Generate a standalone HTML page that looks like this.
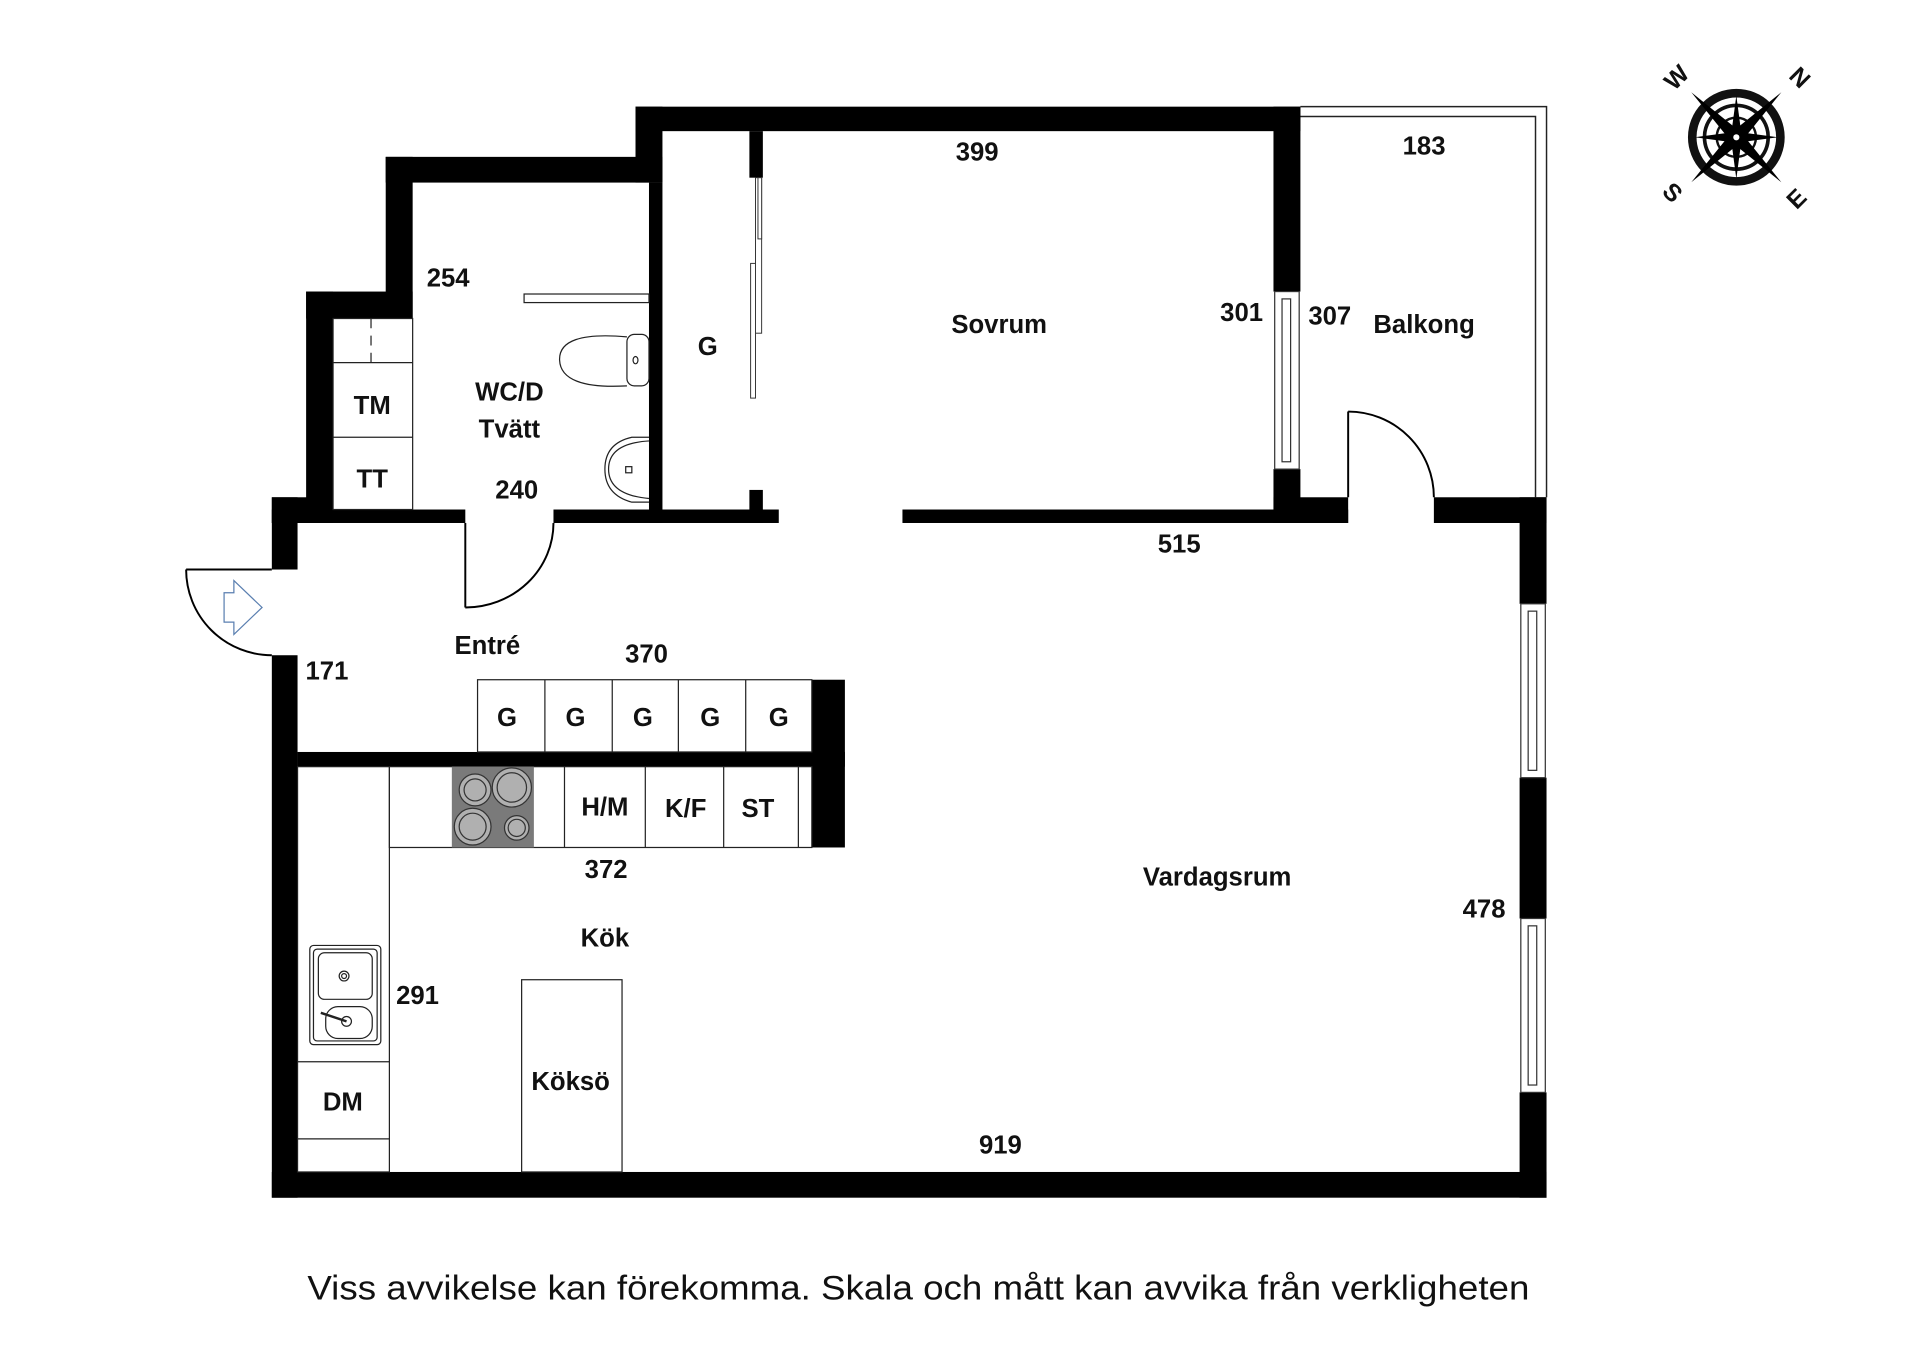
<!DOCTYPE html>
<html><head><meta charset="utf-8"><style>
html,body{margin:0;padding:0;background:#fff;}
svg{display:block;}
text{font-family:"Liberation Sans",sans-serif;font-weight:bold;fill:#111;text-anchor:middle;}
</style></head><body>
<svg width="1920" height="1357" viewBox="0 0 1568 1108" xmlns="http://www.w3.org/2000/svg">
<rect x="0" y="0" width="1568" height="1108" fill="#fff"/>
<path d="M1062 87 H1263 V406" fill="none" stroke="#222" stroke-width="1.2"/>
<path d="M1062 95 H1254 V406" fill="none" stroke="#222" stroke-width="1.2"/>
<g fill="#000">
<rect x="519" y="87" width="543" height="20"/>
<rect x="519" y="87" width="22" height="62"/>
<rect x="530" y="149" width="11" height="278"/>
<rect x="315" y="128" width="226" height="21"/>
<rect x="315" y="128" width="22" height="132"/>
<rect x="250" y="238" width="87" height="22"/>
<rect x="250" y="238" width="22" height="189"/>
<rect x="222" y="406" width="50" height="21"/>
<rect x="222" y="406" width="21" height="59"/>
<rect x="222" y="416" width="158" height="11"/>
<rect x="452" y="416" width="184" height="11"/>
<rect x="612" y="107" width="11" height="38"/>
<rect x="612" y="400" width="11" height="27"/>
<rect x="737" y="416" width="364" height="11"/>
<rect x="1040" y="87" width="22" height="151"/>
<rect x="1040" y="383" width="22" height="44"/>
<rect x="1040" y="406" width="61" height="21"/>
<rect x="1171" y="406" width="92" height="21"/>
<rect x="1241" y="406" width="22" height="87"/>
<rect x="1241" y="635" width="22" height="115"/>
<rect x="1241" y="892" width="22" height="86"/>
<rect x="222" y="535" width="21" height="443"/>
<rect x="222" y="957" width="1041" height="21"/>
<rect x="243" y="614" width="447" height="12"/>
<rect x="663" y="555" width="27" height="137"/>
</g>
<g fill="#fff" stroke="#333" stroke-width="1">
<rect x="1041" y="238" width="20" height="145"/>
<rect x="1047" y="244" width="7" height="133"/>
<rect x="1242" y="493" width="20" height="142"/>
<rect x="1248" y="499" width="7" height="130"/>
<rect x="1242" y="750" width="20" height="142"/>
<rect x="1248" y="756" width="7" height="130"/>
</g>
<g fill="none" stroke="#000" stroke-width="1.6">
<path d="M152 465 H222"/>
<path d="M152 465 A70 70 0 0 0 222 535"/>
<path d="M380 427 V496"/>
<path d="M380 496 A72 69 0 0 0 452 427"/>
<path d="M1101 406 V336"/>
<path d="M1101 336 A70 70 0 0 1 1171 406"/>
</g>
<path d="M183 484 H191 V474 L214 496 L191 518 V508 H183 Z" fill="none" stroke="#5a7fb0" stroke-width="1"/>
<g fill="#fff" stroke="#333" stroke-width="0.8">
<rect x="617" y="145" width="5" height="127"/>
<rect x="613" y="215" width="4" height="110"/>
<rect x="619" y="145" width="3" height="50"/>
</g>
<g fill="none" stroke="#222" stroke-width="1">
<rect x="428" y="240" width="102" height="7"/>
<path d="M512 275 Q456 270 457 294 Q458 318 512 315"/>
<rect x="512" y="273" width="18" height="42" rx="6"/>
<ellipse cx="519" cy="294" rx="2" ry="3"/>
<path d="M530 357 H516 Q494 362 494 383 Q494 404 516 410 H530"/>
<path d="M530 360 Q497 362 497 383 Q497 404 530 407"/>
<rect x="511" y="381" width="5" height="5"/>
<rect x="272" y="260" width="65" height="156"/>
<line x1="272" y1="296" x2="337" y2="296"/>
<line x1="272" y1="357" x2="337" y2="357"/>
<line x1="303" y1="260" x2="303" y2="296" stroke-dasharray="8 6"/>
<rect x="390" y="555" width="273" height="59"/>
<line x1="445" y1="555" x2="445" y2="614"/>
<line x1="500" y1="555" x2="500" y2="614"/>
<line x1="554" y1="555" x2="554" y2="614"/>
<line x1="609" y1="555" x2="609" y2="614"/>
<rect x="318" y="626" width="345" height="66"/>
<line x1="461" y1="626" x2="461" y2="692"/>
<line x1="527" y1="626" x2="527" y2="692"/>
<line x1="591" y1="626" x2="591" y2="692"/>
<line x1="652" y1="626" x2="652" y2="692"/>
<rect x="243" y="626" width="75" height="331"/>
<line x1="243" y1="867" x2="318" y2="867"/>
<line x1="243" y1="930" x2="318" y2="930"/>
<rect x="426" y="800" width="82" height="157"/>
<rect x="253" y="772" width="58" height="81" rx="3"/>
<rect x="256" y="775" width="52" height="75" rx="3"/>
<rect x="260" y="778" width="44" height="38" rx="5"/>
<rect x="266" y="822" width="38" height="26" rx="10"/>
<circle cx="281" cy="797" r="4"/><circle cx="281" cy="797" r="2"/>
<circle cx="283" cy="834" r="4"/>
<line x1="262" y1="827" x2="283" y2="834" stroke-width="2"/>
</g>
<rect x="369" y="626" width="67" height="66" fill="#7a7a7a"/>
<g fill="#b0b0b0" stroke="#333" stroke-width="1">
<circle cx="388" cy="645" r="13"/><circle cx="388" cy="645" r="9"/>
<circle cx="418" cy="643" r="16"/><circle cx="418" cy="643" r="12"/>
<circle cx="386" cy="675" r="15"/><circle cx="386" cy="675" r="11"/>
<circle cx="422" cy="676" r="10"/><circle cx="422" cy="676" r="7"/>
</g>
<g transform="translate(1418,112)">
<circle r="36" fill="none" stroke="#111" stroke-width="7"/>
<circle r="26" fill="none" stroke="#111" stroke-width="3"/>
<circle r="16" fill="none" stroke="#111" stroke-width="2"/>
<g fill="#000">
<polygon points="0,-34 4,-4 0,0 -4,-4"/><polygon points="0,34 4,4 0,0 -4,4"/>
<polygon points="-34,0 -4,-4 0,0 -4,4"/><polygon points="34,0 4,-4 0,0 4,4"/>
<g transform="rotate(45)">
<polygon points="0,-52 5,-5 0,0 -5,-5"/><polygon points="0,52 5,5 0,0 -5,5"/>
<polygon points="-52,0 -5,-5 0,0 -5,5"/><polygon points="52,0 5,-5 0,0 5,5"/>
</g></g>
<circle r="2.5" fill="#fff"/>
</g>
<g font-size="20" style="font-weight:900">
<text x="1369" y="70" transform="rotate(-45 1369 63)">W</text>
<text x="1470" y="70" transform="rotate(45 1470 63)">N</text>
<text x="1366" y="164" transform="rotate(45 1366 157)">S</text>
<text x="1467" y="169" transform="rotate(-45 1467 162)">E</text>
</g>
<g font-size="21">
<text x="798" y="131">399</text>
<text x="1163" y="126">183</text>
<text x="366" y="234">254</text>
<text x="816" y="272">Sovrum</text>
<text x="1014" y="262">301</text>
<text x="1086" y="265">307</text>
<text x="1163" y="272">Balkong</text>
<text x="578" y="290">G</text>
<text x="304" y="338">TM</text>
<text x="304" y="398">TT</text>
<text x="416" y="327">WC/D</text>
<text x="416" y="357">Tvätt</text>
<text x="422" y="407">240</text>
<text x="963" y="451">515</text>
<text x="398" y="534">Entré</text>
<text x="528" y="541">370</text>
<text x="267" y="555">171</text>
<text x="414" y="593">G</text>
<text x="470" y="593">G</text>
<text x="525" y="593">G</text>
<text x="580" y="593">G</text>
<text x="636" y="593">G</text>
<text x="494" y="666">H/M</text>
<text x="560" y="667">K/F</text>
<text x="619" y="667">ST</text>
<text x="495" y="717">372</text>
<text x="994" y="723">Vardagsrum</text>
<text x="1212" y="749">478</text>
<text x="494" y="773">Kök</text>
<text x="341" y="820">291</text>
<text x="466" y="890">Köksö</text>
<text x="280" y="907">DM</text>
<text x="817" y="942">919</text>
</g>
<text x="750" y="1061" font-size="28" style="font-weight:normal" textLength="998" lengthAdjust="spacingAndGlyphs">Viss avvikelse kan förekomma. Skala och mått kan avvika från verkligheten</text>
</svg>
</body></html>
